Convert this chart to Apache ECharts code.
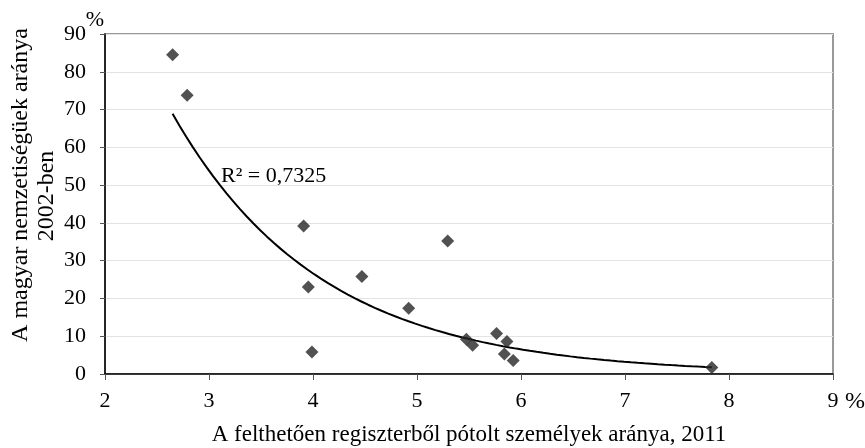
<!DOCTYPE html>
<html>
<head>
<meta charset="utf-8">
<script src="https://cdn.jsdelivr.net/npm/echarts@6/dist/echarts.min.js"></script>
<style>
  html, body { margin: 0; padding: 0; background: #fff; }
  #chart { width: 865px; height: 448px; }
</style>
</head>
<body>
<div id="chart"></div>
<script>
// felthetően regiszterből pótolt személyek aránya, 2011 (%)
const xValues = [2.65, 2.79, 3.91, 3.955, 3.99, 4.47, 4.92, 5.295, 5.475, 5.535, 5.765, 5.865, 5.84, 5.925, 7.835]
// magyar nemzetiségüek aránya 2002-ben (%)
const yValues = [84.5, 73.8, 39.2, 23.0, 5.8, 25.8, 17.4, 35.2, 9.2, 7.6, 10.7, 8.6, 5.3, 3.6, 1.7]
const r2Label = 'R² = 0,7325'
const xTitle = 'A felthetően regiszterből pótolt személyek aránya, 2011'
const yTitle1 = 'A magyar nemzetiségüek aránya'
const yTitle2 = '2002-ben'

const font = 'Liberation Serif'
const points = xValues.map((x, i) => [x, yValues[i]])

// exponenciális trendvonal (ln y ~ x, ahogy az Excel számolja)
function expTrend(xs, ys) {
  const n = xs.length
  const ly = ys.map(v => Math.log(v))
  const mx = xs.reduce((s, v) => s + v, 0) / n
  const my = ly.reduce((s, v) => s + v, 0) / n
  let sxy = 0
  let sxx = 0
  xs.forEach((x, i) => {
    sxy += (x - mx) * (ly[i] - my)
    sxx += (x - mx) * (x - mx)
  })
  const b = sxy / sxx
  const a = Math.exp(my - b * mx)
  const x0 = Math.min(...xs)
  const x1 = Math.max(...xs)
  const out = []
  for (let k = 0; k <= 80; k++) {
    const x = x0 + (x1 - x0) * k / 80
    out.push([x, a * Math.exp(b * x)])
  }
  return out
}

const chart = echarts.init(document.getElementById('chart'))
chart.setOption({
  animation: false,
  textStyle: { fontFamily: font, color: '#000' },
  grid: {
    left: 105,
    right: 32,
    top: 34,
    bottom: 74,
    outerBoundsMode: 'none',
    containLabel: false,
    show: true,
    borderColor: '#999',
    borderWidth: 2
  },
  xAxis: {
    type: 'value',
    min: 2,
    max: 9,
    interval: 1,
    name: xTitle,
    nameLocation: 'middle',
    nameGap: 49,
    nameTextStyle: { fontFamily: font, fontSize: 23, color: '#000' },
    axisLine: { lineStyle: { color: '#000', width: 1.5 } },
    axisTick: { show: true, length: 6, lineStyle: { color: '#555' } },
    axisLabel: { fontFamily: font, fontSize: 22, color: '#000', margin: 16 },
    splitLine: { show: false }
  },
  yAxis: {
    type: 'value',
    min: 0,
    max: 90,
    interval: 10,
    axisLine: { show: true, lineStyle: { color: '#000', width: 1.5 } },
    axisTick: { show: true, length: 5, lineStyle: { color: '#555' } },
    axisLabel: { fontFamily: font, fontSize: 22, color: '#000', margin: 19 },
    splitLine: { show: true, lineStyle: { color: '#e3e3e3', width: 1 } }
  },
  graphic: [
    {
      type: 'text', x: 21, y: 185, rotation: Math.PI / 2,
      style: { text: yTitle1, font: '24px ' + font, fill: '#000', align: 'center', verticalAlign: 'middle' }
    },
    {
      type: 'text', x: 47, y: 196, rotation: Math.PI / 2,
      style: { text: yTitle2, font: '24px ' + font, fill: '#000', align: 'center', verticalAlign: 'middle' }
    },
    {
      type: 'text', x: 95, y: 20,
      style: { text: '%', font: '22px ' + font, fill: '#000', align: 'center', verticalAlign: 'middle' }
    },
    {
      type: 'text', x: 855, y: 402,
      style: { text: '%', font: '24px ' + font, fill: '#000', align: 'center', verticalAlign: 'middle' }
    },
    {
      type: 'text', x: 221, y: 176,
      style: { text: r2Label, font: '22px ' + font, fill: '#000', align: 'left', verticalAlign: 'middle' }
    }
  ],
  series: [
    {
      name: 'trend',
      type: 'line',
      data: expTrend(xValues, yValues),
      showSymbol: false,
      smooth: false,
      lineStyle: { color: '#000', width: 2 },
      z: 2
    },
    {
      name: 'adatok',
      type: 'scatter',
      data: points,
      symbol: 'diamond',
      symbolSize: 13,
      itemStyle: { color: '#262626' },
      z: 3
    }
  ]
})
</script>
</body>
</html>
